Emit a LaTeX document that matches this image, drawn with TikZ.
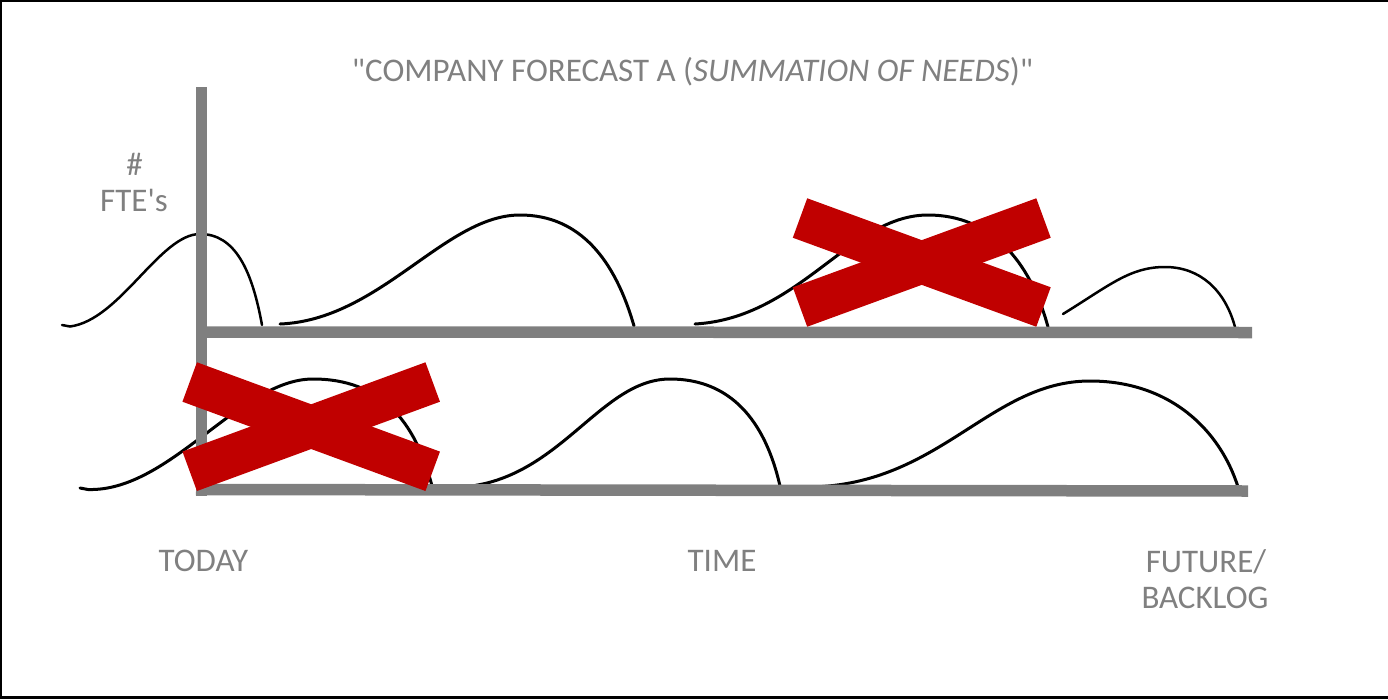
\documentclass[tikz,border=0pt]{standalone}
\usepackage{fontspec}
\newfontfamily\calfont{Carlito}
\definecolor{axisgray}{HTML}{7F7F7F}
\definecolor{txtgray}{HTML}{808080}
\definecolor{xred}{HTML}{C00000}
\tikzset{
  lbl/.style={font=\calfont\fontsize{33}{39}\selectfont, text=txtgray, inner sep=0pt, anchor=base},
  axisline/.style={draw=axisgray, line width=11.5pt, line cap=butt},
  need/.style={draw=black, line width=3pt, line cap=round},
  thinneed/.style={need, line width=2.5pt},
  cross/.style={draw=xred, line width=42pt, line cap=butt}
}
\begin{document}
\begin{tikzpicture}[x=1pt,y=-1pt]
\useasboundingbox (0,0) rectangle (1388,699);
% frame (top, left, bottom)
\draw[line width=2pt] (0,1) -- (1388,1);
\draw[line width=2pt] (1,0) -- (1,699);
\draw[line width=3pt] (0,697.5) -- (1388,697.5);

% needs curves, top row
\draw[thinneed] (62,325) -- (70,326.5) .. controls (120,320) and (160,234) .. (200,234) .. controls (235,234) and (252,270) .. (262,325);
\draw[need] (280,324) .. controls (380,320) and (445,215) .. (520,215) .. controls (580,215) and (615,260) .. (634,326);
\draw[need] (695,324) .. controls (800,318) and (850,215) .. (928,215) .. controls (990,215) and (1030,260) .. (1048,327);
\draw[thinneed] (1063,314) .. controls (1110,285) and (1130,267) .. (1165,267) .. controls (1200,267) and (1225,290) .. (1235,327);

% needs curves, bottom row
\draw[need] (80,488) -- (88,489.5) .. controls (170,492) and (240,379) .. (313,379) .. controls (380,379) and (415,420) .. (432,486);
\draw[need] (462,487) .. controls (560,480) and (600,379) .. (670,379) .. controls (730,379) and (765,420) .. (780,486);
\draw[need] (810,487) .. controls (940,485) and (990,381) .. (1090,381) .. controls (1170,381) and (1220,430) .. (1238,487);

% axes
\draw[axisline, line width=10.5pt] (201.5,87) -- (201.5,495.5);
\draw[axisline] (202,332) -- (1252,332.5);
\draw[axisline] (196,489.5) -- (1248,491);

% crosses
\draw[cross] (800,218) -- (1043.5,307);
\draw[cross] (800,307) -- (1043.5,218);
\draw[cross] (189.7,382) -- (432.7,471.3);
\draw[cross] (189.7,471.3) -- (432.7,382);

% texts
\node[lbl] (title) at (692.5,81) {"COMPANY FORECAST A ({\itshape SUMMATION OF NEEDS})"};
\node[lbl] (hash) at (134.5,175) {\#};
\node[lbl] (fte) at (134,211) {FTE's};
\node[lbl] (today) at (203.5,571) {TODAY};
\node[lbl] (time) at (722,571) {TIME};
\node[lbl] (future) at (1206,572) {FUTURE/};
\node[lbl] (backlog) at (1205,608) {BACKLOG};
\end{tikzpicture}
\end{document}
